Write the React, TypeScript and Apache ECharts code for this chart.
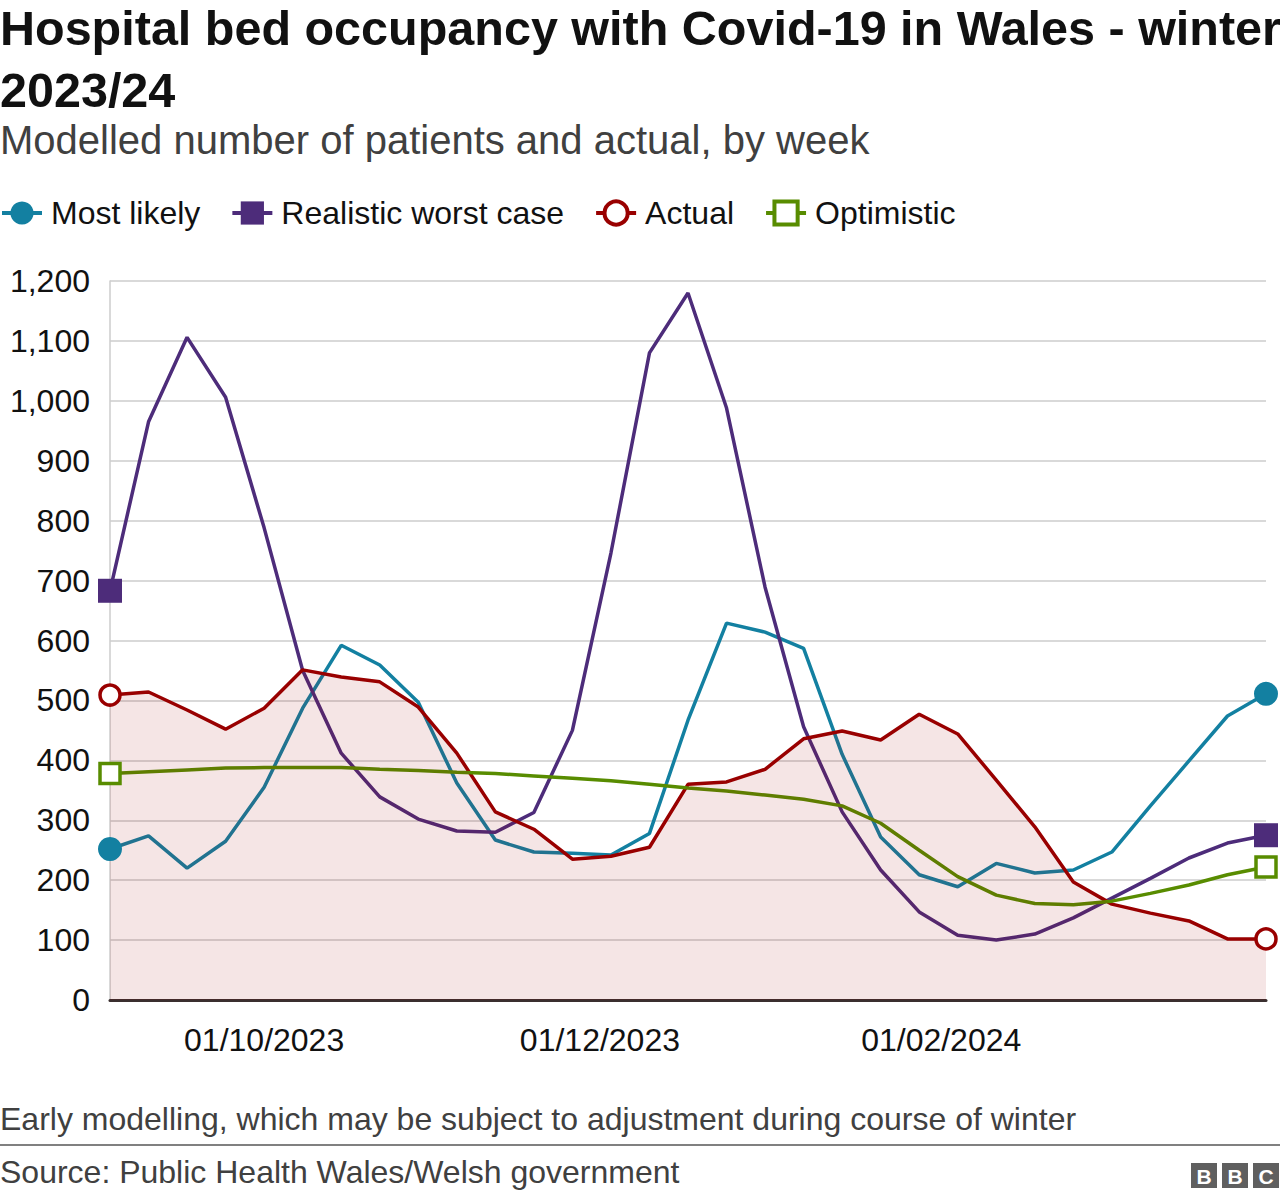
import React, { useEffect, useRef } from 'react';
import * as echarts from 'echarts';

const weeks = [
  '2023-09-03', '2023-09-10', '2023-09-17', '2023-09-24', '2023-10-01', '2023-10-08',
  '2023-10-15', '2023-10-22', '2023-10-29', '2023-11-05', '2023-11-12', '2023-11-19',
  '2023-11-26', '2023-12-03', '2023-12-10', '2023-12-17', '2023-12-24', '2023-12-31',
  '2024-01-07', '2024-01-14', '2024-01-21', '2024-01-28', '2024-02-04', '2024-02-11',
  '2024-02-18', '2024-02-25', '2024-03-03', '2024-03-10', '2024-03-17', '2024-03-24',
  '2024-03-31',
];

const mostLikely = [
  252, 274, 220, 265, 355, 487, 592, 559, 497, 362, 267, 247, 245, 242, 278, 467,
  629, 614, 587, 410, 272, 209, 189, 228, 212, 217, 247, 324, 399, 474, 511,
];
const worstCase = [
  683, 965, 1106, 1006, 788, 550, 412, 339, 302, 282, 280, 313, 450, 746, 1080, 1180,
  988, 689, 456, 314, 217, 147, 108, 100, 110, 137, 170, 203, 237, 262, 275,
];
const actual = [
  509, 514, 484, 452, 487, 551, 539, 531, 489, 412, 314, 285, 235, 240, 255, 360,
  364, 385, 436, 449, 434, 477, 444, 367, 289, 197, 160, 145, 132, 102, 102,
];
const optimistic = [
  378, 381, 384, 387, 388, 388, 388, 385, 383, 380, 378, 374, 370, 366, 360, 354,
  349, 342, 335, 324, 295, 250, 206, 175, 161, 159, 165, 178, 192, 209, 222,
];

const xTickDates = ['2023-10-01', '2023-12-01', '2024-02-01'];
const xTickLabels = ['01/10/2023', '01/12/2023', '01/02/2024'];

const TITLE = 'Hospital bed occupancy with Covid-19 in Wales - winter\n2023/24';
const SUBTITLE = 'Modelled number of patients and actual, by week';
const NOTE = 'Early modelling, which may be subject to adjustment during course of winter';
const SOURCE = 'Source: Public Health Wales/Welsh government';

const ts = (d: string) => Date.parse(d + 'T00:00:00Z');
const FONT = '"Liberation Sans", Arial, Helvetica, sans-serif';

const C_TEAL = '#1380A1';
const C_PURPLE = '#4D2C7A';
const C_RED = '#990000';
const C_GREEN = '#588C00';

export default function App() {
  const ref = useRef<HTMLDivElement>(null);

  useEffect(() => {
    if (!ref.current) return;
    const chart = echarts.init(ref.current, null, { renderer: 'svg' });
    const last = weeks.length - 1;
    const pts = (vals: number[]) => weeks.map((w, i) => [ts(w), vals[i]]);
    const ends = (vals: number[]) => [[ts(weeks[0]), vals[0]], [ts(weeks[last]), vals[last]]];

    const lineSeries = (name: string, vals: number[], color: string, symbol: string, itemStyle: any) => ({
      name,
      type: 'line',
      data: pts(vals),
      symbol,
      symbolSize: 23,
      showSymbol: false,
      lineStyle: { color, width: 3.5 },
      itemStyle,
      z: 2,
      silent: true,
    });
    const endSeries = (vals: number[], symbol: string, size: number, itemStyle: any) => ({
      type: 'scatter',
      data: ends(vals),
      symbol,
      symbolSize: size,
      itemStyle: { opacity: 1, ...itemStyle },
      z: 5,
      silent: true,
    });

    const tickTs = xTickDates.map(ts);

    const legendItem = (name: string, color: string, fill: string, bw: number) => ({
      name,
      itemStyle: { color: fill, borderColor: color, borderWidth: bw, opacity: 1 },
      lineStyle: { color, width: 4, opacity: 1 },
    });

    chart.setOption({
      animation: false,
      textStyle: { fontFamily: FONT },
      title: [
        {
          text: TITLE,
          left: 0,
          top: -3,
          padding: 0,
          textStyle: { fontFamily: FONT, fontSize: 48.5, fontWeight: 'bold', color: '#111', lineHeight: 62 },
        },
        {
          text: SUBTITLE,
          left: 0,
          top: 120,
          padding: 0,
          textStyle: { fontFamily: FONT, fontSize: 40, fontWeight: 'normal', color: '#404040', lineHeight: 40 },
        },
      ],
      legend: {
        data: [
          legendItem('Most likely', C_TEAL, C_TEAL, 0),
          legendItem('Realistic worst case', C_PURPLE, C_PURPLE, 0),
          legendItem('Actual', C_RED, '#ffffff', 4),
          legendItem('Optimistic', C_GREEN, '#ffffff', 4),
        ],
        left: 0,
        top: 197,
        padding: 0,
        itemWidth: 40,
        itemHeight: 29,
        itemGap: 30,
        textStyle: { fontFamily: FONT, fontSize: 32, color: '#111', padding: [0, 0, 0, 4] },
      },
      grid: { left: 110, right: 14, top: 281, bottom: 200, containLabel: false },
      xAxis: {
        type: 'value',
        min: ts(weeks[0]),
        max: ts(weeks[last]),
        axisLine: { show: true, lineStyle: { color: '#3a2f2f', width: 3 } },
        axisTick: { show: false },
        splitLine: { show: false },
        axisLabel: {
          customValues: tickTs,
          formatter: (v: number) => {
            const k = tickTs.indexOf(v);
            return k >= 0 ? xTickLabels[k] : '';
          },
          fontFamily: FONT,
          fontSize: 32,
          color: '#111',
          margin: 24,
        },
      },
      yAxis: {
        type: 'value',
        min: 0,
        max: 1200,
        interval: 100,
        axisLine: { show: true, lineStyle: { color: '#cccccc', width: 1.5 } },
        axisTick: { show: false },
        splitLine: { show: true, lineStyle: { color: '#cccccc', width: 1.5 } },
        axisLabel: {
          formatter: (v: number) => v.toString().replace(/\B(?=(\d{3})+(?!\d))/g, ','),
          fontFamily: FONT,
          fontSize: 32,
          color: '#111',
          margin: 20,
        },
      },
      series: [
        lineSeries('Most likely', mostLikely, C_TEAL, 'circle', { color: C_TEAL }),
        lineSeries('Realistic worst case', worstCase, C_PURPLE, 'rect', { color: C_PURPLE }),
        lineSeries('Actual', actual, C_RED, 'circle', { color: '#ffffff', borderColor: C_RED, borderWidth: 4 }),
        lineSeries('Optimistic', optimistic, C_GREEN, 'rect', { color: '#ffffff', borderColor: C_GREEN, borderWidth: 4 }),
        {
          name: 'Actual area',
          type: 'line',
          data: pts(actual),
          symbol: 'none',
          lineStyle: { width: 0, opacity: 0 },
          areaStyle: { color: 'rgba(153,0,0,0.1)', opacity: 1 },
          z: 3,
          silent: true,
        },
        endSeries(mostLikely, 'circle', 24, { color: C_TEAL }),
        endSeries(worstCase, 'rect', 24, { color: C_PURPLE }),
        endSeries(actual, 'circle', 20, { color: '#ffffff', borderColor: C_RED, borderWidth: 3.5 }),
        endSeries(optimistic, 'rect', 20, { color: '#ffffff', borderColor: C_GREEN, borderWidth: 3.5 }),
      ],
      graphic: [
        {
          type: 'text',
          left: 0,
          top: 1103,
          style: { text: NOTE, fontFamily: FONT, fontSize: 32, fill: '#404040' },
        },
        {
          type: 'line',
          shape: { x1: 0, y1: 1145, x2: 1280, y2: 1145 },
          style: { stroke: '#808080', lineWidth: 2 },
        },
        {
          type: 'text',
          left: 0,
          top: 1156,
          style: { text: SOURCE, fontFamily: FONT, fontSize: 32, fill: '#404040' },
        },
        ...['B', 'B', 'C'].flatMap((ch, i) => [
          {
            type: 'rect',
            shape: { x: 1191 + i * 31, y: 1163, width: 26, height: 25 },
            style: { fill: '#5f5f5f' },
          },
          {
            type: 'text',
            x: 1191 + i * 31 + 13,
            y: 1176,
            style: {
              text: ch,
              fontFamily: FONT,
              fontSize: 21,
              fontWeight: 'bold',
              fill: '#ffffff',
              align: 'center',
              verticalAlign: 'middle',
            },
          },
        ]),
      ],
    });

    return () => chart.dispose();
  }, []);

  return (
    <div
      ref={ref}
      style={{ position: 'fixed', left: 0, top: 0, width: 1280, height: 1200, background: '#fff' }}
    />
  );
}
